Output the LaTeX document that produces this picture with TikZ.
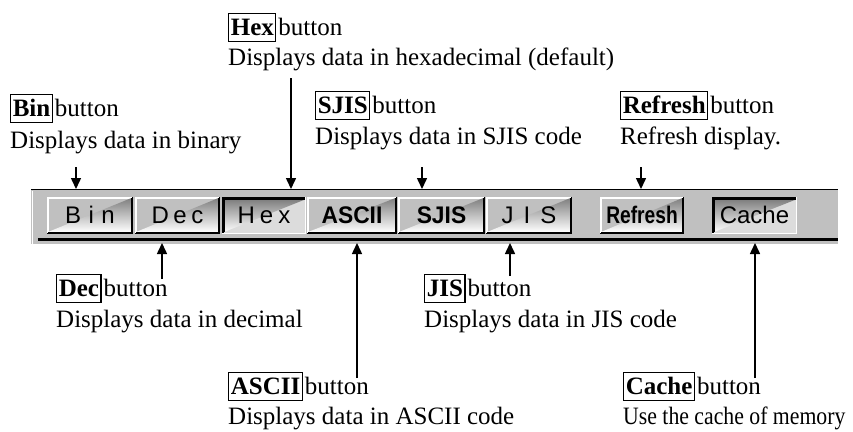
\documentclass[tikz,border=0pt]{standalone}
\usepackage{fontspec}
\setmainfont{Liberation Serif}
\newfontfamily\btnfont{Liberation Sans}
\usetikzlibrary{arrows.meta}
\definecolor{panel}{HTML}{C0C0C0}
\definecolor{shade}{HTML}{808080}
\definecolor{pressed}{HTML}{DCDCDC}
\tikzset{
  arr/.style={line width=1.5pt,-{Triangle[length=11pt,width=10pt]}},
  lbl/.style={anchor=base west,inner sep=0pt,font=\fontsize{25}{30}\selectfont},
  tag/.style={draw,line width=1.2pt,inner xsep=2pt,inner ysep=2.5pt,text height=19pt,text depth=4pt,font=\bfseries},
  btntext/.style={font=\btnfont\fontsize{24}{26}\selectfont,inner sep=0pt},
}
\newcommand{\raisedbtn}[4]{% x1 x2 name text
  \fill[panel] (#1,197) rectangle (#2,233);
  \draw[white,line width=1.5pt] (#1+0.75,233) -- (#1+0.75,197.75) -- (#2-1,197.75);
  \draw[shade,line width=1pt] (#1+1,232) -- (#2-1.5,232) -- (#2-1.5,198);
  \draw[black,line width=1.2pt] (#1,233.4) -- (#2-0.4,233.4) -- (#2-0.4,197);
  \node[btntext] (#3) at ({(#1+#2)/2},215) {#4};
}
\newcommand{\pressedbtn}[4]{%
  \fill[pressed] (#1,197) rectangle (#2,233);
  \draw[black,line width=1.5pt] (#1+0.75,233) -- (#1+0.75,197.75) -- (#2,197.75);
  \draw[shade,line width=1pt] (#1+2,232) -- (#1+2,199.5) -- (#2-1,199.5);
  \draw[white,line width=1.2pt] (#1,233.4) -- (#2-0.4,233.4) -- (#2-0.4,197);
  \node[btntext] (#3) at ({(#1+#2)/2},215) {#4};
}
\begin{document}
\begin{tikzpicture}[x=1pt,y=-1pt]
\useasboundingbox (0,0) rectangle (853,431);
\fill[white] (0,0) rectangle (853,431);
% toolbar panel
\fill[panel] (31,189) rectangle (838,244);
\draw[shade,line width=1pt] (31,189.5) -- (838,189.5);
\draw[white,line width=1pt] (32,190.5) -- (32,244);
\draw[black,line width=1.6pt] (38,240) -- (838,240);
\draw[shade,line width=0.8pt] (38,238) -- (838,238);
% buttons
\raisedbtn{47}{133}{bin}{B\hspace{7.5pt}i\hspace{7.5pt}n}
\raisedbtn{135}{220}{dec}{D\hspace{4.5pt}e\hspace{4.5pt}c}
\pressedbtn{222}{306}{hex}{H\hspace{5pt}e\hspace{5pt}x}
\raisedbtn{307}{397}{ascii}{\scalebox{0.95}[1]{\bfseries ASCII}}
\raisedbtn{398}{485}{sjis}{\scalebox{0.95}[1]{\bfseries SJIS}}
\raisedbtn{486}{572}{jis}{J\hspace{10pt}I\hspace{10pt}S}
\raisedbtn{600}{684}{refresh}{\scalebox{0.8}[1]{\bfseries Refresh}}
\pressedbtn{712}{797}{cache}{Cache}
% labels above
\node[lbl] (binL) at (10,116) {\tikz[baseline]\node[tag,anchor=base]{Bin};\hspace{2pt}button};
\node[lbl] (binD) at (10,148) {Displays data in binary};
\node[lbl] (hexL) at (228,35) {\tikz[baseline]\node[tag,anchor=base]{Hex};\hspace{2pt}button};
\node[lbl] (hexD) at (228,65) {Displays data in hexadecimal (default)};
\node[lbl] (sjisL) at (315,113) {\tikz[baseline]\node[tag,anchor=base]{SJIS};\hspace{2pt}button};
\node[lbl] (sjisD) at (315,144) {Displays data in SJIS code};
\node[lbl] (refL) at (620,113) {\tikz[baseline]\node[tag,anchor=base]{Refresh};\hspace{2pt}button};
\node[lbl] (refD) at (620,144) {Refresh display.};
% labels below
\node[lbl] (decL) at (56,296) {\tikz[baseline]\node[tag,anchor=base]{Dec};\hspace{2pt}button};
\node[lbl] (decD) at (56,327) {Displays data in decimal};
\node[lbl] (jisL) at (424,296) {\tikz[baseline]\node[tag,anchor=base]{JIS};\hspace{2pt}button};
\node[lbl] (jisD) at (424,327) {Displays data in JIS code};
\node[lbl] (asciiL) at (228,394) {\tikz[baseline]\node[tag,anchor=base]{ASCII};\hspace{2pt}button};
\node[lbl] (asciiD) at (228,424) {Displays data in ASCII code};
\node[lbl] (cacheL) at (623,394) {\tikz[baseline]\node[tag,anchor=base]{Cache};\hspace{2pt}button};
\node[lbl] (cacheD) at (623,424) {\scalebox{0.87}[1]{Use the cache of memory}};
% arrow anchor coordinates
\coordinate (binA) at (76,167);
\coordinate (hexA) at (291,78);
\coordinate (sjisA) at (422,167);
\coordinate (refA) at (641,167);
\coordinate (decA) at (162,279);
\coordinate (asciiA) at (357,378);
\coordinate (jisA) at (510,276);
\coordinate (cacheA) at (755,378);
\coordinate (topEdge) at (0,189);
\coordinate (botEdge) at (0,243);
\draw[arr] (binA) -- (binA |- topEdge);
\draw[arr] (hexA) -- (hexA |- topEdge);
\draw[arr] (sjisA) -- (sjisA |- topEdge);
\draw[arr] (refA) -- (refA |- topEdge);
\draw[arr] (decA) -- (decA |- botEdge);
\draw[arr] (asciiA) -- (asciiA |- botEdge);
\draw[arr] (jisA) -- (jisA |- botEdge);
\draw[arr] (cacheA) -- (cacheA |- botEdge);
\end{tikzpicture}
\end{document}
